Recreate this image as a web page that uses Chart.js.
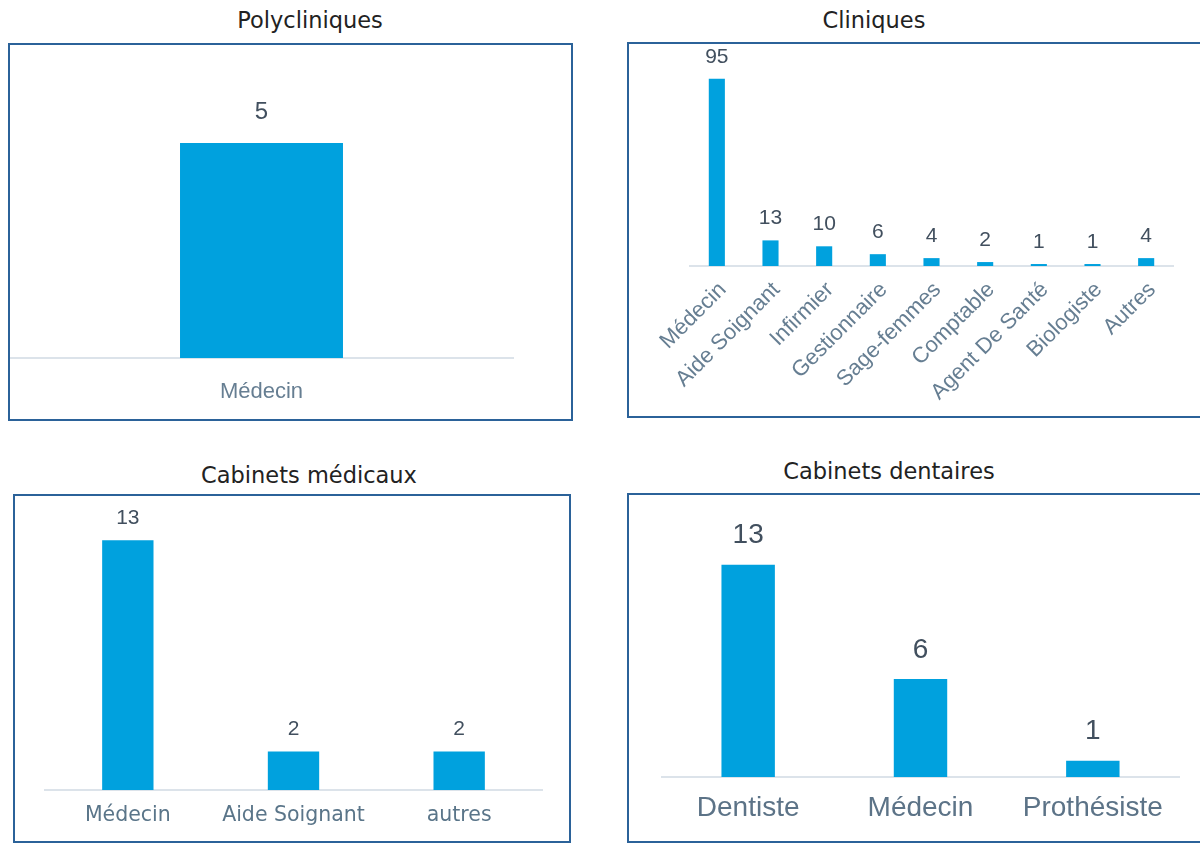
<!DOCTYPE html>
<html>
<head>
<meta charset="utf-8">
<script src="https://cdn.jsdelivr.net/npm/chart.js@4/dist/chart.umd.min.js"></script>
<style>
  html, body { margin: 0; padding: 0; background: #ffffff; }
  body { width: 1200px; height: 843px; position: relative; overflow: hidden; font-family: 'Liberation Sans', Arial, sans-serif; }
  .title { position: absolute; font-family: 'DejaVu Sans', sans-serif; font-size: 22.5px; color: #222222; text-align: center; white-space: nowrap; transform: translate(-50%, -50%); }
  .box { position: absolute; border: 2px solid #2B6299; box-sizing: border-box; }
  .box canvas { position: absolute; left: 0; top: 0; }
</style>
</head>
<body>
<div class="title" style="left:310px; top:20px;">Polycliniques</div>
<div class="title" style="left:874px; top:20px;">Cliniques</div>
<div class="title" style="left:309px; top:475px;">Cabinets médicaux</div>
<div class="title" style="left:889px; top:471px;">Cabinets dentaires</div>

<div class="box" style="left:8px; top:43px; width:565px; height:378px;"><canvas id="c1"></canvas></div>
<div class="box" style="left:627px; top:42px; width:576px; height:376px;"><canvas id="c2"></canvas></div>
<div class="box" style="left:13px; top:494px; width:558px; height:349px;"><canvas id="c3"></canvas></div>
<div class="box" style="left:627px; top:493px; width:576px; height:350px;"><canvas id="c4"></canvas></div>

<script>
// ---- Data ----
const polycliniquesLabels = ['Médecin'];
const polycliniquesValues = [5];

const cliniquesLabels = ['Médecin', 'Aide Soignant', 'Infirmier', 'Gestionnaire', 'Sage-femmes', 'Comptable', 'Agent De Santé', 'Biologiste', 'Autres'];
const cliniquesValues = [95, 13, 10, 6, 4, 2, 1, 1, 4];

const cabinetsMedicauxLabels = ['Médecin', 'Aide Soignant', 'autres'];
const cabinetsMedicauxValues = [13, 2, 2];

const cabinetsDentairesLabels = ['Dentiste', 'Médecin', 'Prothésiste'];
const cabinetsDentairesValues = [13, 6, 1];

// ---- Styling ----
const SANS = "'Liberation Sans', Arial, sans-serif";
const WIDE = "'DejaVu Sans', sans-serif";
Chart.defaults.font.family = SANS;
const BAR_COLOR = '#00A1DE';
const VALUE_COLOR = '#414F5E';
const CAT_COLOR = '#667E92';
const BASE_COLOR = '#DCE3EA';

const valueLabels = {
  id: 'valueLabels',
  afterDatasetsDraw(chart, args, opts) {
    const ctx = chart.ctx;
    ctx.save();
    ctx.font = opts.size + "px " + SANS;
    ctx.fillStyle = VALUE_COLOR;
    ctx.textAlign = 'center';
    ctx.textBaseline = 'middle';
    const meta = chart.getDatasetMeta(0);
    const data = chart.data.datasets[0].data;
    meta.data.forEach((el, i) => {
      ctx.fillText(String(data[i]), el.x, el.y - opts.offset);
    });
    ctx.restore();
  }
};

function makeChart(id, w, h, labels, values, cfg) {
  const canvas = document.getElementById(id);
  canvas.width = w; canvas.height = h;
  canvas.style.width = w + 'px'; canvas.style.height = h + 'px';
  return new Chart(canvas, {
    type: 'bar',
    data: {
      labels: labels,
      datasets: [{
        data: values,
        backgroundColor: BAR_COLOR,
        borderWidth: 0,
        barPercentage: cfg.barPct,
        categoryPercentage: 1
      }]
    },
    options: {
      responsive: false,
      animation: false,
      devicePixelRatio: 1,
      layout: { padding: { left: cfg.padL, right: cfg.padR, top: cfg.padT, bottom: 0 } },
      plugins: {
        legend: { display: false },
        tooltip: { enabled: false },
        title: { display: false },
        valueLabels: { size: cfg.valSize, offset: cfg.valOffset }
      },
      scales: {
        y: { display: false, min: 0, max: cfg.yMax },
        x: {
          grid: { display: false, drawTicks: false },
          border: { display: true, color: BASE_COLOR, width: 2 },
          ticks: {
            color: cfg.catColor || CAT_COLOR,
            font: { size: cfg.catSize, family: cfg.catFamily || SANS },
            padding: cfg.tickPad,
            labelOffset: cfg.labelOffset || 0,
            autoSkip: false,
            minRotation: cfg.rot || 0,
            maxRotation: cfg.rot || 0
          },
          afterFit: (s) => { s.height = cfg.axisH; s.paddingLeft = 0; s.paddingRight = 0; }
        }
      }
    },
    plugins: [valueLabels]
  });
}

makeChart('c1', 561, 374, polycliniquesLabels, polycliniquesValues, {
  padL: 0, padR: 58, padT: 12, yMax: 7, axisH: 61, barPct: 0.324,
  valSize: 24, valOffset: 31, catSize: 22, tickPad: 21
});

makeChart('c2', 572, 372, cliniquesLabels, cliniquesValues, {
  padL: 61, padR: 28, padT: 25, yMax: 100, axisH: 150, barPct: 0.3,
  valSize: 21, valOffset: 22, catSize: 22, tickPad: 11, rot: 45, labelOffset: 6
});

makeChart('c3', 554, 345, cabinetsMedicauxLabels, cabinetsMedicauxValues, {
  padL: 30, padR: 27, padT: 25, yMax: 14, axisH: 51, barPct: 0.31,
  valSize: 21, valOffset: 22, catSize: 20.5, tickPad: 13, catColor: '#5A7589', catFamily: WIDE
});

makeChart('c4', 572, 346, cabinetsDentairesLabels, cabinetsDentairesValues, {
  padL: 33, padR: 22, padT: 37, yMax: 15, axisH: 64, barPct: 0.31,
  valSize: 28, valOffset: 29, catSize: 28, tickPad: 14, catColor: '#5C7387'
});
</script>
</body>
</html>
